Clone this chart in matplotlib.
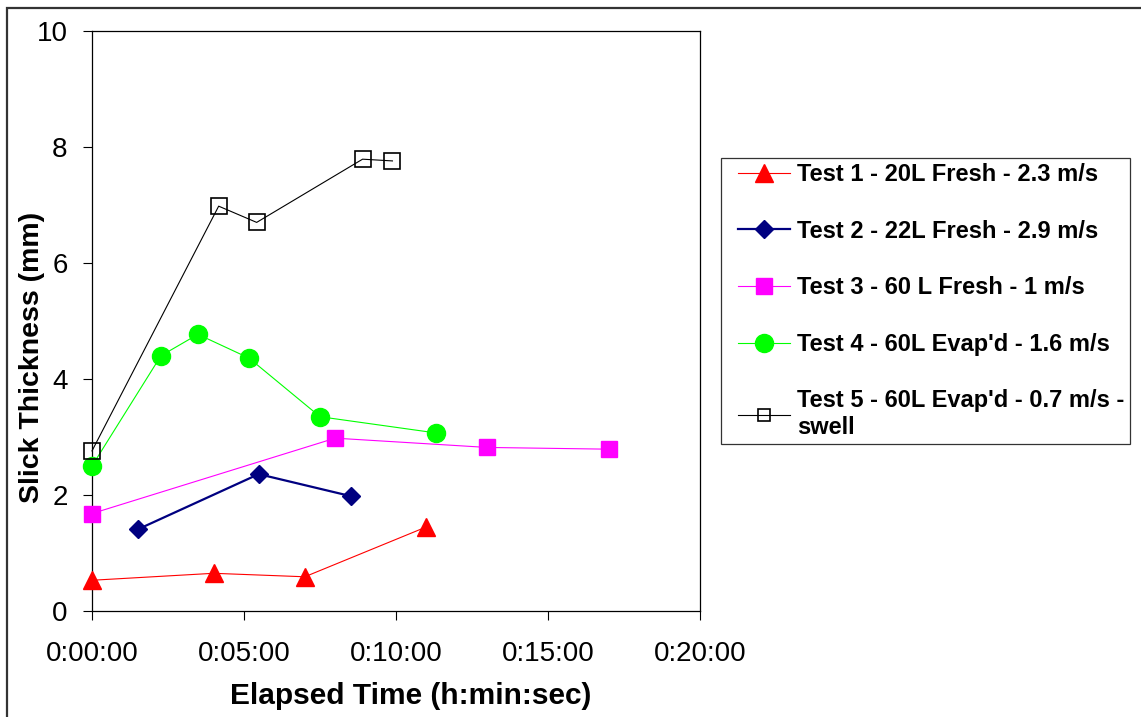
import matplotlib
matplotlib.use("Agg")
import matplotlib.pyplot as plt
from matplotlib.patches import Rectangle
from matplotlib.legend_handler import HandlerLine2D

plt.rcParams['font.family'] = ['Liberation Sans', 'DejaVu Sans']

# ---- data (elapsed time h:mm:ss, slick thickness mm) ----
t1_time = ["0:00:00", "0:04:00", "0:07:00", "0:11:00"]
t1_thk = [0.53, 0.65, 0.59, 1.45]

t2_time = ["0:01:31", "0:05:29", "0:08:31"]
t2_thk = [1.41, 2.36, 1.98]

t3_time = ["0:00:00", "0:08:00", "0:13:00", "0:17:00"]
t3_thk = [1.68, 2.98, 2.82, 2.79]

t4_time = ["0:00:00", "0:02:16", "0:03:29", "0:05:10", "0:07:30", "0:11:19"]
t4_thk = [2.50, 4.40, 4.77, 4.36, 3.35, 3.07]

t5_time = ["0:00:00", "0:04:10", "0:05:25", "0:08:54", "0:09:53"]
t5_thk = [2.76, 6.98, 6.70, 7.79, 7.76]

labels = ["Test 1 - 20L Fresh - 2.3 m/s",
          "Test 2 - 22L Fresh - 2.9 m/s",
          "Test 3 - 60 L Fresh - 1 m/s",
          "Test 4 - 60L Evap'd - 1.6 m/s",
          "Test 5 - 60L Evap'd - 0.7 m/s -\nswell"]

x_ticks = ["0:00:00", "0:05:00", "0:10:00", "0:15:00", "0:20:00"]
y_ticks = [0, 2, 4, 6, 8, 10]


def to_min(s):
    h, m, sec = (int(v) for v in s.split(":"))
    return h * 60 + m + sec / 60.0


W, H = 1141, 717
fig = plt.figure(figsize=(W / 100, H / 100), dpi=100)
ax = fig.add_axes([92 / W, 1 - 611 / H, (700 - 92) / W, (611 - 31) / H])

common = dict(clip_on=False, zorder=3)
ax.plot([to_min(s) for s in t1_time], t1_thk, color='#FF0000', lw=0.8,
        marker='^', ms=13.5, mec='#FF0000', mfc='#FF0000', label=labels[0], **common)
ax.plot([to_min(s) for s in t2_time], t2_thk, color='#000080', lw=1.6,
        marker='D', ms=9.5, mec='#000080', mfc='#000080', label=labels[1], **common)
ax.plot([to_min(s) for s in t3_time], t3_thk, color='#FF00FF', lw=0.8,
        marker='s', ms=12, mec='#FF00FF', mfc='#FF00FF', label=labels[2], **common)
ax.plot([to_min(s) for s in t4_time], t4_thk, color='#00FF00', lw=0.8,
        marker='o', ms=13, mec='#00FF00', mfc='#00FF00', label=labels[3], **common)
ax.plot([to_min(s) for s in t5_time], t5_thk, color='#000000', lw=0.8,
        marker='s', ms=12, mec='#000000', mfc='none', mew=1.2, label=labels[4], **common)

ax.set_xlim(0, 20)
ax.set_ylim(0, 10)
ax.set_xticks([to_min(s) for s in x_ticks])
ax.set_xticklabels(x_ticks)
ax.set_yticks(y_ticks)
ax.set_yticklabels([str(v) for v in y_ticks])
ax.tick_params(axis='both', direction='out', length=6.5, width=0.8,
               labelsize=20, colors='black')
ax.tick_params(axis='x', pad=15)
ax.tick_params(axis='y', pad=11)
for sp in ax.spines.values():
    sp.set_linewidth(0.9)
    sp.set_color('black')
    sp.set_zorder(2.5)

fig.text(411 / W, 1 - 696 / H, "Elapsed Time (h:min:sec)", ha='center',
         va='center', fontsize=21.5, fontweight='bold')
fig.text(32 / W, 1 - 357 / H, "Slick Thickness (mm)", ha='center',
         va='center', rotation=90, fontsize=20.5, fontweight='bold')

xpad = 0.5
leg = ax.legend(loc='upper left', bbox_to_anchor=(721 / W, 1 - 158 / H),
                bbox_transform=fig.transFigure, frameon=True, fancybox=False,
                shadow=False, prop={'weight': 'bold', 'size': 17},
                handlelength=2.2 + xpad, handletextpad=0.3, labelspacing=1.42,
                borderpad=0.22, borderaxespad=0,
                handler_map={matplotlib.lines.Line2D: HandlerLine2D(xpad=xpad)})
leg.get_frame().set_edgecolor('black')
leg.get_frame().set_linewidth(0.9)
leg.legend_handles[4].set_markersize(9)

fig.patches.append(Rectangle((7 / W, -0.05), 1.1, 1 - 8 / H + 0.05,
                             transform=fig.transFigure, fill=False,
                             edgecolor='#333333', lw=1.6))

fig.savefig("out.png", dpi=100)
